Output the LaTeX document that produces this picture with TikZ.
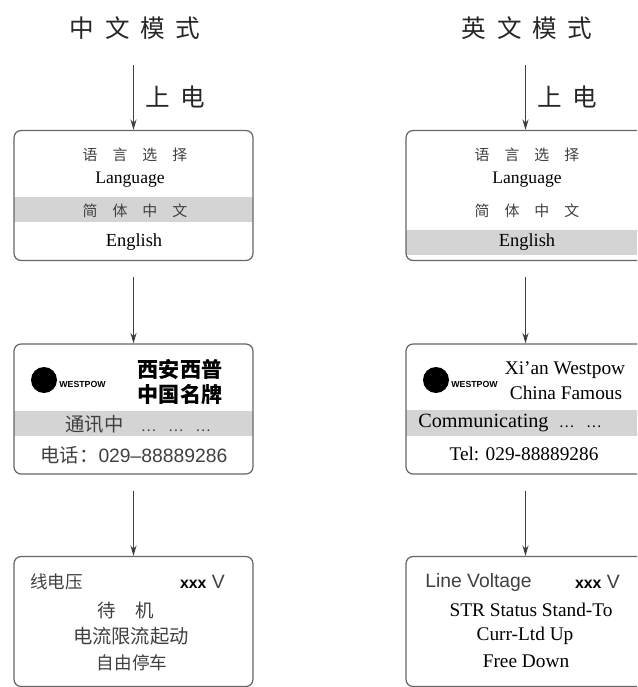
\documentclass[tikz,border=0pt]{standalone}
\usepackage{fontspec}
\setmainfont{Liberation Serif}
\newfontfamily\cjk{Noto Sans CJK SC}
\newfontfamily\sans{Liberation Sans}
\usetikzlibrary{arrows.meta}

\begin{document}
\begin{tikzpicture}[x=0.02cm, y=-0.02cm,
		box_style/.style={draw=black!60, line width=0.7pt, rounded corners=4pt, minimum width=4.78cm, minimum height=2.6cm},
		band_style/.style={fill=black!17},
		arrow_style/.style={draw=black!75, line width=0.6pt, -{Stealth[length=6pt,width=3.5pt]}},
		title_style/.style={font=\cjk\fontsize{14}{16}\selectfont, text=black!85},
		cn_style/.style={font=\cjk\fontsize{10.5}{12}\selectfont, text=black!75},
		en_style/.style={font=\fontsize{11}{13}\selectfont, text=black},
		sans_style/.style={font=\sans\fontsize{11}{13}\selectfont, text=black!75},
		logo_style/.style={circle, fill=black, minimum size=0.52cm, inner sep=0pt}]
		
		\useasboundingbox (0,0) rectangle (637,687);
		\clip (0,0) rectangle (637,687);
		
		% gray bands
		\fill[band_style] (14,197) rectangle (253,222);
		\fill[band_style] (14,411) rectangle (253,436);
		\fill[band_style] (406,230) rectangle (645,255);
		\fill[band_style] (406,410) rectangle (645,436);
		
		% boxes
		\node[box_style] (lb1) at (133.5,195.5) {};
		\node[box_style] (lb2) at (133.5,409)   {};
		\node[box_style] (lb3) at (133.5,621.5) {};
		\node[box_style] (rb1) at (525.5,195.5) {};
		\node[box_style] (rb2) at (525.5,409)   {};
		\node[box_style] (rb3) at (525.5,621.5) {};
		
		% titles
		\node[title_style] (lt) at (135,28) {中\hspace{6pt}文\hspace{6pt}模\hspace{6pt}式};
		\node[title_style] (rt) at (527,28) {英\hspace{6pt}文\hspace{6pt}模\hspace{6pt}式};
		\coordinate (lp) at (133.5,65);
		\coordinate (rp) at (525.5,65);
		\node[title_style] (lon) at (175,97) {上\hspace{6pt}电};
		\node[title_style] (ron) at (567,97) {上\hspace{6pt}电};
		
		% box 1, left
		\node[cn_style, font=\cjk\fontsize{8.5}{10}\selectfont] (l11) at (135,155) {语\hspace{8.5pt}言\hspace{8.5pt}选\hspace{8.5pt}择};
		\node[en_style, font=\fontsize{10}{12}\selectfont] (l12) at (130,180) {Language};
		\node[cn_style, font=\cjk\fontsize{8.5}{10}\selectfont] (l13) at (135,211) {简\hspace{8.5pt}体\hspace{8.5pt}中\hspace{8.5pt}文};
		\node[en_style, font=\fontsize{10.5}{12}\selectfont] (l14) at (134,242) {English};
		
		% box 1, right
		\node[cn_style, font=\cjk\fontsize{8.5}{10}\selectfont] (r11) at (527,155) {语\hspace{8.5pt}言\hspace{8.5pt}选\hspace{8.5pt}择};
		\node[en_style, font=\fontsize{10}{12}\selectfont] (r12) at (527,180) {Language};
		\node[cn_style, font=\cjk\fontsize{8.5}{10}\selectfont] (r13) at (527,211) {简\hspace{8.5pt}体\hspace{8.5pt}中\hspace{8.5pt}文};
		\node[en_style, font=\fontsize{10.5}{12}\selectfont] (r14) at (527,242) {English};
		
		% box 2, left
		\node[logo_style] (ll) at (44,380) {};
		\node[font=\sans\bfseries\fontsize{5}{6}\selectfont, inner sep=0pt, anchor=west] (llt) at (59,384) {WESTPOW};
		\node[font=\cjk\bfseries\fontsize{12}{14}\selectfont] (l21) at (180,370) {西安西普};
		\node[font=\cjk\bfseries\fontsize{12}{14}\selectfont] (l22) at (180,394) {中国名牌};
		\node[cn_style, font=\cjk\fontsize{11}{13}\selectfont] (l23) at (138,424) {通讯中\hspace{10pt}{\fontsize{8}{9}\selectfont …\hspace{7pt}…\hspace{7pt}…}};
		\node[sans_style] (l24) at (134,455) {{\cjk 电话：}029–88889286};
		
		% box 2, right
		\node[logo_style] (rl) at (436,380) {};
		\node[font=\sans\bfseries\fontsize{5}{6}\selectfont, inner sep=0pt, anchor=west] (rlt) at (451,384) {WESTPOW};
		\node[en_style] (r21) at (565,370) {Xi'an Westpow};
		\node[en_style] (r22) at (566,393) {China Famous};
		\node[en_style, font=\fontsize{11.5}{13}\selectfont, anchor=west, inner sep=0pt] (r23) at (418,423) {Communicating\hspace{6pt}{\cjk\fontsize{8}{9}\selectfont …\hspace{7pt}…}};
		\node[en_style] (r24) at (524,454) {Tel: 029-88889286};
		
		% box 3, left
		\node[cn_style, font=\cjk\fontsize{10}{12}\selectfont, anchor=west, inner sep=0pt] (l31) at (30,582) {线电压};
		\node[sans_style, anchor=east, inner sep=0pt] (l32) at (225,582) {{\bfseries\fontsize{9}{10}\selectfont\color{black} xxx} V};
		\node[cn_style] (l33) at (126,610) {待\hspace{11pt}机};
		\node[cn_style, font=\cjk\fontsize{11}{13}\selectfont] (l34) at (131,636) {电流限流起动};
		\node[cn_style, font=\cjk\fontsize{10}{12}\selectfont] (l35) at (132,663) {自由停车};
		
		% box 3, right
		\node[sans_style, anchor=west, inner sep=0pt] (r31) at (425,582) {Line Voltage};
		\node[sans_style, anchor=east, inner sep=0pt] (r32) at (620,582) {{\bfseries\fontsize{9}{10}\selectfont\color{black} xxx} V};
		\node[en_style] (r33) at (531,610) {STR Status Stand-To};
		\node[en_style] (r34) at (525,636) {Curr-Ltd Up};
		\node[en_style] (r35) at (526,661) {Free Down};
		
		% arrows
		\draw[arrow_style] (lp) -- (lb1);
		\draw[arrow_style] (rp) -- (rb1);
		\draw[arrow_style, shorten <=0.32cm] (lb1) edge (lb2);
		\draw[arrow_style, shorten <=0.32cm] (lb2) edge (lb3);
		\draw[arrow_style, shorten <=0.32cm] (rb1) edge (rb2);
		\draw[arrow_style, shorten <=0.32cm] (rb2) edge (rb3);
		
\end{tikzpicture}
\end{document}
